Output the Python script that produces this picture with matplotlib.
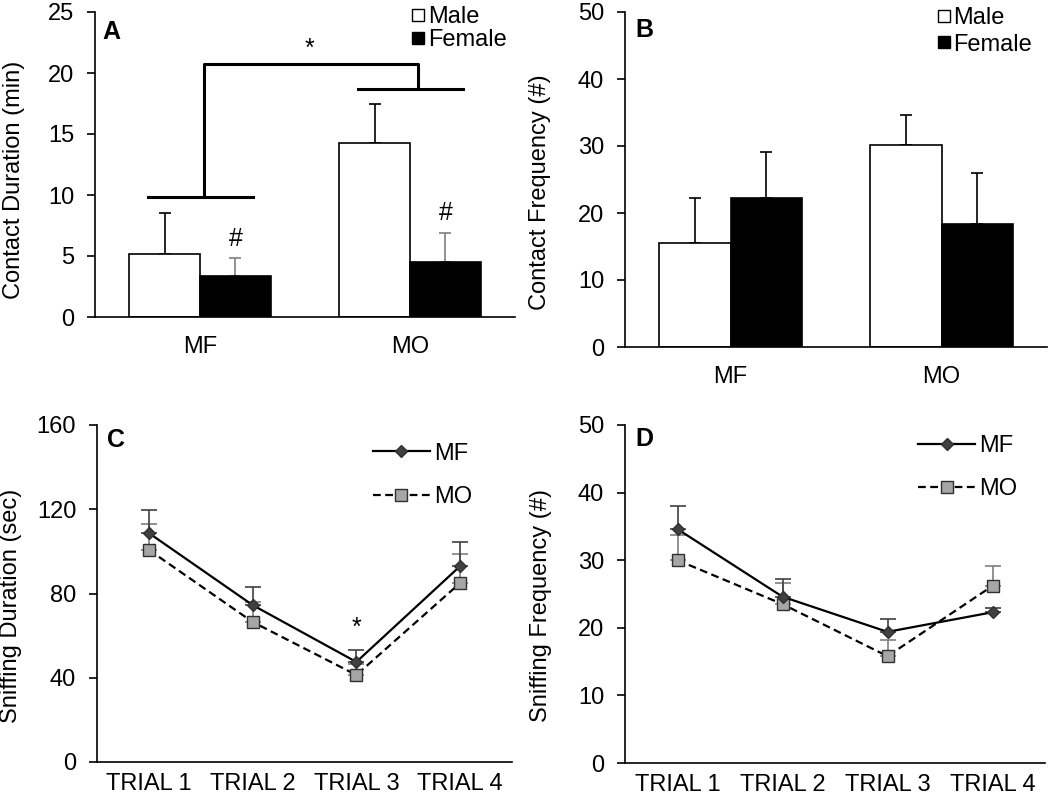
import numpy as np
import matplotlib.pyplot as plt
from matplotlib.lines import Line2D

plt.rcParams['font.family'] = ['Liberation Sans', 'DejaVu Sans']

# ---- data ----
groups = ["MF", "MO"]
dur_male = [5.2, 14.3]
dur_male_err = [3.3, 3.2]
dur_female = [3.4, 4.5]
dur_female_err = [1.4, 2.4]

freq_male = [15.5, 30.1]
freq_male_err = [6.8, 4.6]
freq_female = [22.2, 18.3]
freq_female_err = [6.9, 7.7]

trials = ["TRIAL 1", "TRIAL 2", "TRIAL 3", "TRIAL 4"]
sniff_dur_mf = [108.7, 74.5, 47.5, 93.0]
sniff_dur_mf_err = [11.0, 8.5, 5.5, 11.5]
sniff_dur_mo = [100.7, 66.5, 41.3, 85.0]
sniff_dur_mo_err = [12.3, 9.5, 5.0, 13.8]

sniff_freq_mf = [34.6, 24.6, 19.4, 22.3]
sniff_freq_mf_err = [3.4, 2.6, 1.9, 0.6]
sniff_freq_mo = [30.0, 23.5, 15.8, 26.2]
sniff_freq_mo_err = [3.8, 3.1, 2.4, 2.9]

# significance bracket levels in panel A
bracket_low = [9.8, 18.7]
bracket_top = 20.7

W, H = 1050, 797
fig = plt.figure(figsize=(W / 100, H / 100), dpi=100)


def px_axes(left, right, top, bottom):
    return fig.add_axes([left / W, (H - bottom) / H, (right - left) / W, (bottom - top) / H])


TICK = 17
LAB = 17
LEG = 17


def style(ax, xpad):
    for s in ["top", "right"]:
        ax.spines[s].set_visible(False)
    for s in ["left", "bottom"]:
        ax.spines[s].set_linewidth(1.2)
    ax.tick_params(axis="y", direction="out", length=6, width=1.2, labelsize=TICK, pad=9)
    ax.tick_params(axis="x", length=0, labelsize=TICK, pad=xpad)


def bar_panel(ax, male, male_err, female, female_err, fem_err_color):
    x = np.arange(len(groups))
    w = 0.338
    ax.bar(x - w / 2, male, w, color="white", edgecolor="black", linewidth=1.2, zorder=2)
    ax.bar(x + w / 2, female, w, color="black", edgecolor="black", linewidth=1.2, zorder=2)
    ax.errorbar(x - w / 2, male, yerr=[np.zeros(len(male)), male_err], fmt="none",
                ecolor="black", elinewidth=1.2, capsize=4.5, capthick=1.2, zorder=1)
    ax.errorbar(x + w / 2, female, yerr=[np.zeros(len(female)), female_err], fmt="none",
                ecolor=fem_err_color, elinewidth=1.2, capsize=4.5, capthick=1.2, zorder=1)
    ax.set_xlim(-0.5, len(groups) - 0.5)
    ax.set_xticks(x)
    ax.set_xticklabels(groups)
    return x, w


def sex_legend(ax, anchor, spacing):
    h = [Line2D([], [], ls="none", marker="s", ms=8, mfc="white", mec="black", mew=1.0),
         Line2D([], [], ls="none", marker="s", ms=8, mfc="black", mec="black", mew=1.0)]
    ax.legend(h, ["Male", "Female"], loc="upper right", bbox_to_anchor=anchor,
              frameon=False, fontsize=LEG, handlelength=0.6, handletextpad=0.1,
              labelspacing=spacing, borderpad=0, borderaxespad=0)


# ---- A ----
axA = px_axes(95, 515, 12, 317)
style(axA, 14)
x, w = bar_panel(axA, dur_male, dur_male_err, dur_female, dur_female_err, "#7f7f7f")
axA.set_ylim(0, 25)
axA.set_yticks(np.arange(0, 26, 5))
axA.set_ylabel("Contact Duration (min)", fontsize=LAB)
axA.yaxis.set_label_coords(-0.167, 0.449)
sex_legend(axA, (0.98, 1.02), 0.05)
axA.text(0.017, 0.975, "A", transform=axA.transAxes, fontsize=18, fontweight="bold",
         ha="left", va="top")
# bracket
for xi, yl in zip(x, bracket_low):
    axA.plot([xi - 0.25, xi + 0.25], [yl, yl], color="black", lw=2.2, clip_on=False)
axA.plot([x[0] + 0.02, x[0] + 0.02, x[1] + 0.04, x[1] + 0.04],
         [bracket_low[0], bracket_top, bracket_top, bracket_low[1]],
         color="black", lw=2.2, clip_on=False)
axA.text((x[0] + x[1]) / 2 + 0.02, bracket_top + 0.3, "*", fontsize=18, ha="center", va="bottom")
for xi, m, e in zip(x, dur_female, dur_female_err):
    axA.text(xi + w / 2, m + e + 0.6, "#", fontsize=18, ha="center", va="bottom")

# ---- B ----
axB = px_axes(625, 1047, 12, 347)
style(axB, 14)
bar_panel(axB, freq_male, freq_male_err, freq_female, freq_female_err, "black")
axB.set_ylim(0, 50)
axB.set_yticks(np.arange(0, 51, 10))
axB.set_ylabel("Contact Frequency (#)", fontsize=LAB)
axB.yaxis.set_label_coords(-0.175, 0.463)
sex_legend(axB, (0.965, 1.015), 0.2)
axB.text(0.024, 0.982, "B", transform=axB.transAxes, fontsize=18, fontweight="bold",
         ha="left", va="top")


# ---- line panels ----
def line_panel(ax, mf, mf_err, mo, mo_err):
    xt = np.arange(len(trials))
    ax.errorbar(xt, mo, yerr=[np.zeros(len(mo)), mo_err], fmt="none", ecolor="#7f7f7f",
                elinewidth=1.2, capsize=5.5, capthick=1.2, zorder=1)
    ax.errorbar(xt, mf, yerr=[np.zeros(len(mf)), mf_err], fmt="none", ecolor="#404040",
                elinewidth=1.2, capsize=5.5, capthick=1.2, zorder=1)
    ax.plot(xt, mo, ls=(0, (3.5, 2)), color="black", lw=1.6, marker="s", ms=8.5,
            mfc="#a6a6a6", mec="#303030", mew=1.0, label="MO", zorder=3)
    ax.plot(xt, mf, ls="-", color="black", lw=1.6, marker="D", ms=6.5,
            mfc="#404040", mec="#303030", mew=1.0, label="MF", zorder=4)
    ax.set_xlim(-0.5, len(trials) - 0.5)
    ax.set_xticks(xt)
    ax.set_xticklabels(trials)
    return xt


def group_legend(ax, anchor):
    hs, ls = ax.get_legend_handles_labels()
    order = [ls.index("MF"), ls.index("MO")]
    ax.legend([hs[i] for i in order], [ls[i] for i in order], loc="upper right",
              bbox_to_anchor=anchor, frameon=False, fontsize=LEG, handlelength=2.4,
              handletextpad=0.2, labelspacing=0.9, borderpad=0, borderaxespad=0)


axC = px_axes(97, 512, 425, 762)
style(axC, 8)
xt = line_panel(axC, sniff_dur_mf, sniff_dur_mf_err, sniff_dur_mo, sniff_dur_mo_err)
axC.set_ylim(0, 160)
axC.set_yticks(np.arange(0, 161, 40))
axC.set_ylabel("Sniffing Duration (sec)", fontsize=LAB)
axC.yaxis.set_label_coords(-0.18, 0.463)
group_legend(axC, (0.905, 0.948))
axC.text(0.024, 0.99, "C", transform=axC.transAxes, fontsize=18, fontweight="bold",
         ha="left", va="top")
axC.text(xt[2], sniff_dur_mf[2] + sniff_dur_mf_err[2] + 5, "*", fontsize=18,
         ha="center", va="bottom")

axD = px_axes(625, 1045, 425, 763)
style(axD, 8)
line_panel(axD, sniff_freq_mf, sniff_freq_mf_err, sniff_freq_mo, sniff_freq_mo_err)
axD.set_ylim(0, 50)
axD.set_yticks(np.arange(0, 51, 10))
axD.set_ylabel("Sniffing Frequency (#)", fontsize=LAB)
axD.yaxis.set_label_coords(-0.174, 0.467)
group_legend(axD, (0.935, 0.97))
axD.text(0.024, 0.994, "D", transform=axD.transAxes, fontsize=18, fontweight="bold",
         ha="left", va="top")

fig.savefig("out.png", dpi=100)
